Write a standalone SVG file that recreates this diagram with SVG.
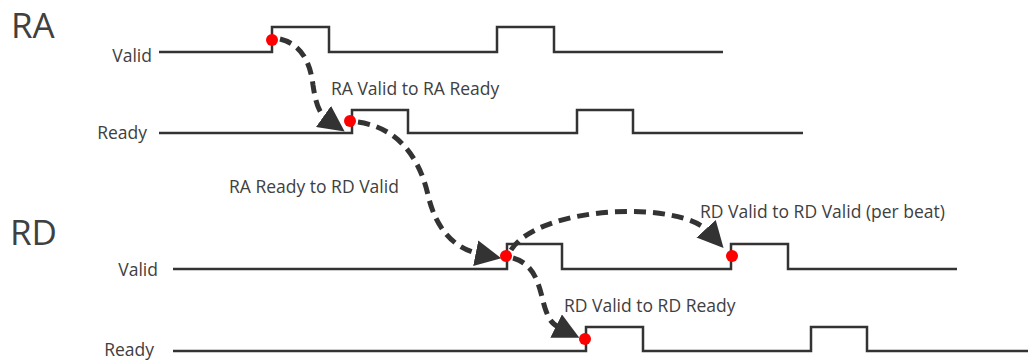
<svg xmlns="http://www.w3.org/2000/svg" width="1028" height="360" viewBox="0 0 1028 360">
  <style>
    .bg { fill: #ffffff; }
    .sig { fill: none; stroke: #333333; stroke-width: 2.5; stroke-linejoin: miter; }
    .lbl { font-family: "Open Sans", "Noto Sans", sans-serif; font-size: 17.5px; fill: #404040; }
    .title { font-family: "Open Sans", "Noto Sans", sans-serif; font-size: 35px; fill: #404040; }
    .dep { fill: none; stroke: #333333; stroke-width: 5; stroke-dasharray: 12 7; marker-end: url(#head); }
    .dot { fill: #ff0000; }
  </style>
  <defs>
    <marker id="head" markerUnits="userSpaceOnUse" markerWidth="26" markerHeight="26" viewBox="0 0 24 24" refX="4" refY="12" orient="auto">
      <path d="M0,0 L24,12 L0,24 z" fill="#333333"/>
    </marker>
  </defs>
  <rect class="bg" x="0" y="0" width="1028" height="360"/>

  <!-- channel titles -->
  <text class="title" x="11" y="38">RA</text>
  <text class="title" x="10" y="245">RD</text>

  <!-- RA Valid -->
  <g id="ra-valid">
    <text class="lbl" x="152" y="62" text-anchor="end">Valid</text>
    <path class="sig" d="M159,52 H272 V27 H329 V52 H497 V27 H554 V52 H723"/>
  </g>

  <!-- RA Ready -->
  <g id="ra-ready">
    <text class="lbl" x="147" y="139" text-anchor="end">Ready</text>
    <path class="sig" d="M159,133 H352 V110 H408 V133 H577 V110 H633 V133 H803"/>
  </g>

  <!-- RD Valid -->
  <g id="rd-valid">
    <text class="lbl" x="158" y="276" text-anchor="end">Valid</text>
    <path class="sig" d="M173,269 H507 V244 H562 V269 H731 V244 H788 V269 H957"/>
  </g>

  <!-- RD Ready -->
  <g id="rd-ready">
    <text class="lbl" x="154" y="356" text-anchor="end">Ready</text>
    <path class="sig" d="M173,351 H586 V327 H643 V351 H811 V327 H867 V351 H1028"/>
  </g>

  <!-- dependency arrows -->
  <g id="connectors">
    <path class="dep" d="M280,39 C300,44 310,60 313,85 C316,106 320,114 327,119"/>
    <path class="dep" d="M358,122 C400,128 420,160 428,195 C436,230 455,249 480,254"/>
    <path class="dep" d="M511,250 C540,205 680,200 709,232"/>
    <path class="dep" d="M513,258 C538,265 540,292 545,308 C549,320 552,324 560,328"/>
  </g>

  <!-- labels on the arrows -->
  <g id="arrow-labels">
    <text class="lbl" x="331" y="95">RA Valid to RA Ready</text>
    <text class="lbl" x="229" y="193">RA Ready to RD Valid</text>
    <text class="lbl" x="700" y="218">RD Valid to RD Valid (per beat)</text>
    <text class="lbl" x="564" y="312">RD Valid to RD Ready</text>
  </g>

  <!-- handshake points -->
  <g id="dots">
    <circle class="dot" cx="272" cy="40" r="6"/>
    <circle class="dot" cx="350" cy="121" r="6"/>
    <circle class="dot" cx="506" cy="256" r="6"/>
    <circle class="dot" cx="732" cy="256" r="6"/>
    <circle class="dot" cx="585" cy="339" r="6"/>
  </g>
</svg>
